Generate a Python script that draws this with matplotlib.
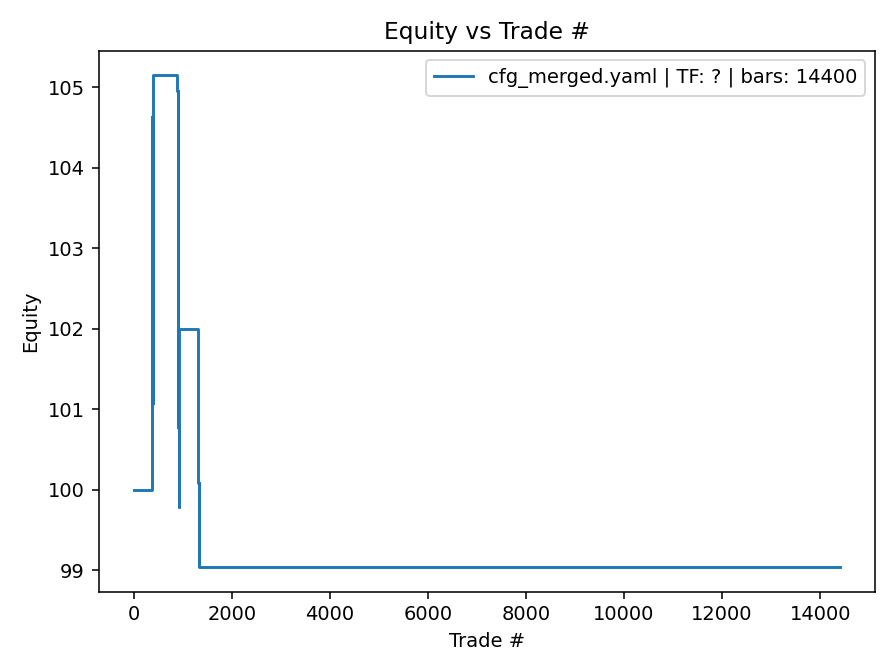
import matplotlib
matplotlib.use("Agg")
import matplotlib.pyplot as plt

# equity curve breakpoints (trade index, equity) drawn as steps
trade_idx = [0, 368, 372, 376, 380, 384, 388, 392, 396, 400,
             890, 894, 898, 902, 906, 910, 914, 918,
             1316, 1320, 1324, 1328, 1332, 1336, 14399]
equity = [100.0, 101.08, 104.63, 101.08, 104.63, 101.08, 104.63, 101.08, 104.63, 105.15,
          104.95, 100.78, 104.95, 100.78, 104.95, 100.78, 99.79, 102.0,
          100.08, 99.1, 100.08, 99.1, 100.08, 99.04, 99.04]

label = "cfg_merged.yaml | TF: ? | bars: 14400"

fig, ax = plt.subplots(figsize=(6.4, 4.8), dpi=140)
ax.plot(trade_idx, equity, drawstyle="steps-post", label=label)
ax.set_title("Equity vs Trade #")
ax.set_xlabel("Trade #")
ax.set_ylabel("Equity")
ax.legend(loc="upper right")
fig.tight_layout()
fig.savefig("out.png", dpi=140)
